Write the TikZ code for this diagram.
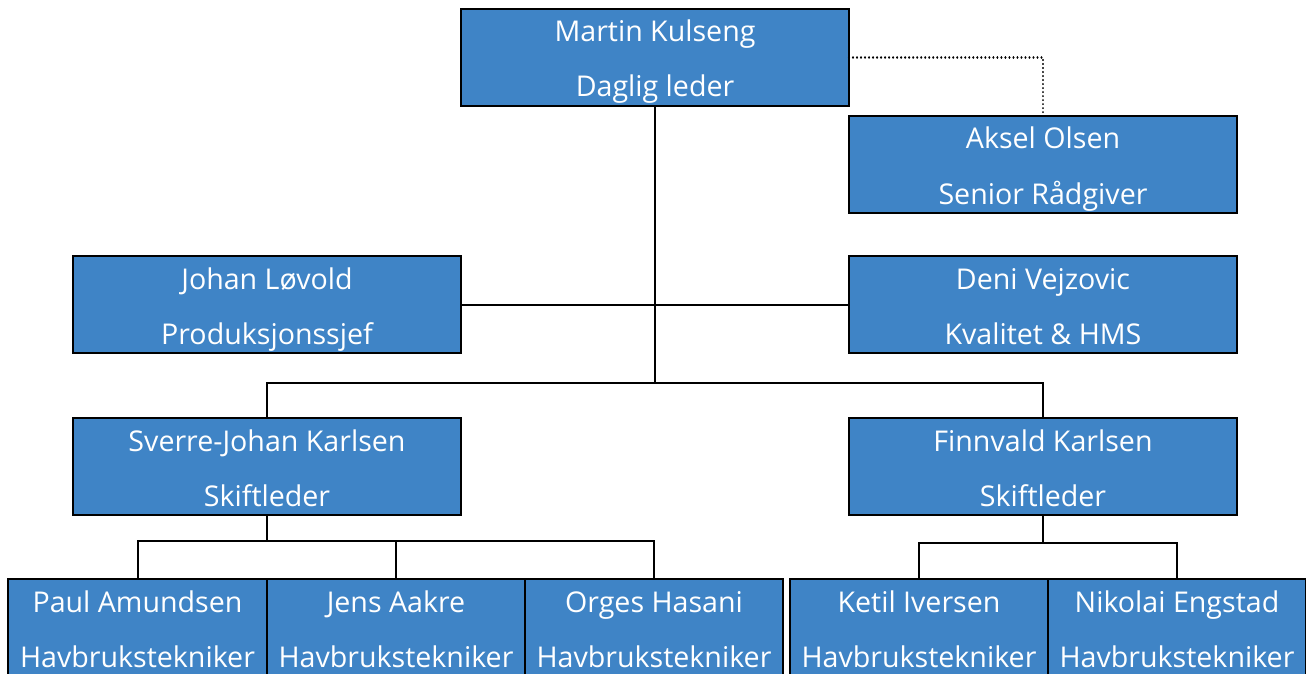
\documentclass[tikz,border=0pt]{standalone}
\usepackage{fontspec}
\setmainfont{Open Sans}
\definecolor{boxblue}{HTML}{3F84C6}
\tikzset{
  orgbox/.style={draw=black, line width=2.2pt, fill=boxblue, rectangle, inner sep=0pt, outer sep=0pt, minimum height=97pt},
  orgtext/.style={text=white, anchor=base, inner sep=0pt, font=\fontsize{28.6pt}{34pt}\selectfont},
  conn/.style={draw=black, line width=2pt},
  dotconn/.style={draw=black, line width=2.2pt, line cap=round, dash pattern=on 0.01pt off 4pt}
}
\newcommand\person[5]{%
  \node[orgbox, minimum width=#3pt, anchor=north west] (#1) at (#2) {};
  \node[orgtext] (#1-a) at ([yshift=-33pt]#1.north) {#4};
  \node[orgtext] (#1-b) at ([yshift=-88pt]#1.north) {#5};
}
\begin{document}
\begin{tikzpicture}[x=1pt,y=-1pt]
\useasboundingbox (0,0) rectangle (1306,674);
\clip (0,0) rectangle (1306,674);
\coordinate (hub) at (655,383);
\coordinate (sl) at (267,383);
\coordinate (sr) at (1043,383);
\coordinate (dr) at (1043,57.5);
\coordinate (sb) at (267,541);
\coordinate (sbl) at (137.5,541);
\coordinate (sbm) at (396,541);
\coordinate (sbr) at (654,541);
\coordinate (fb) at (1043,543);
\coordinate (fbl) at (919,543);
\coordinate (fbr) at (1177,543);

\person{M}{461,9}{388}{Martin Kulseng}{Daglig leder}
\person{A}{849,116}{388}{Aksel Olsen}{Senior Rådgiver}
\person{J}{73,256}{388}{Johan Løvold}{Produksjonssjef}
\person{D}{849,256}{388}{Deni Vejzovic}{Kvalitet \& HMS}
\person{S}{73,418}{388}{Sverre-Johan Karlsen}{Skiftleder}
\person{F}{849,418}{388}{Finnvald Karlsen}{Skiftleder}
\person{P}{8,579}{259}{Paul Amundsen}{Havbrukstekniker}
\person{Je}{267,579}{258}{Jens Aakre}{Havbrukstekniker}
\person{O}{525,579}{258}{Orges Hasani}{Havbrukstekniker}
\person{K}{790,579}{258}{Ketil Iversen}{Havbrukstekniker}
\person{N}{1048,579}{258}{Nikolai Engstad}{Havbrukstekniker}

\draw[conn] (M.south) -- (hub);
\draw[conn] (J.east) -- (D.west);
\draw[conn] (S.north) -- (sl) -- (sr) -- (F.north);
\draw[conn] (S.south) -- (sb);
\draw[conn] (P.north) -- (sbl) -- (sbr) -- (O.north);
\draw[conn] (sbm) -- (Je.north);
\draw[conn] (F.south) -- (fb);
\draw[conn] (K.north) -- (fbl) -- (fbr) -- (N.north);
\draw[dotconn] (M.east |- dr) -- (dr) -- (A.north);
\end{tikzpicture}
\end{document}
